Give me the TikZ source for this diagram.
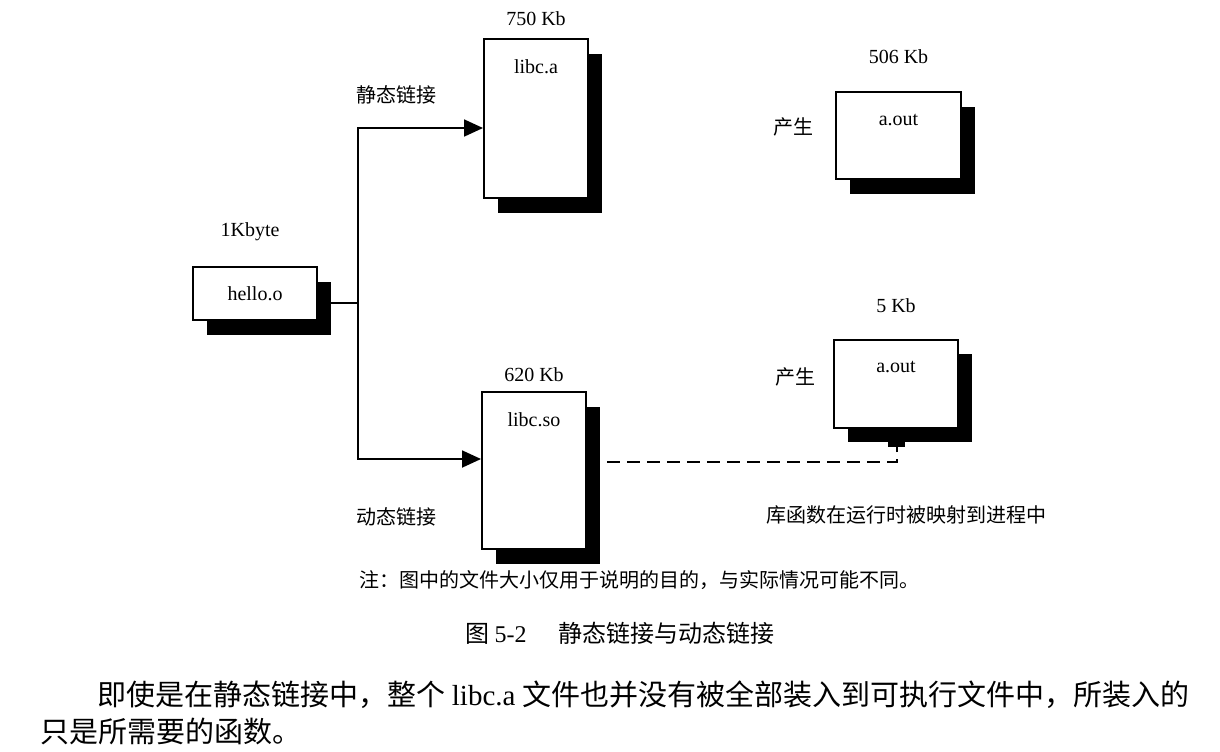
\documentclass[tikz,border=0pt]{standalone}
\usepackage{fontspec}
\setmainfont{Liberation Serif}
\newfontfamily\cjk{Noto Sans CJK SC}
\usepackage{tikz}
\usetikzlibrary{arrows.meta,positioning,shadows}

\begin{document}
\begin{tikzpicture}[x=0.5pt,y=-0.5pt,
    file/.style={draw,line width=1pt,fill=white,inner sep=0pt,
        general shadow={fill=black,shadow xshift=7pt,shadow yshift=-7.3pt}},
    lat/.style={font=\fontsize{10}{12}\selectfont},
    zh/.style={font=\cjk\fontsize{10}{12}\selectfont},
    note/.style={font=\cjk\fontsize{10}{12}\selectfont},
    figcap/.style={font=\cjk\fontsize{12}{14}\selectfont},
    body/.style={font=\cjk\fontsize{14.5}{17}\selectfont,anchor=west,inner xsep=0pt},
    link/.style={line width=0.9pt,-{Triangle[length=9.5pt,width=8.5pt]}},
    maplink/.style={line width=0.9pt,dash pattern=on 6.5pt off 3.5pt}]
    \useasboundingbox (0,0) rectangle (1220,751);
    \node[file,lat,minimum width=62pt,minimum height=26.5pt] at (255,293.5) (hello) {hello.o};
    \node[file,minimum width=52pt,minimum height=79.5pt] at (536,118.5) (libca) {};
    \node[file,minimum width=52pt,minimum height=78.5pt] at (534,470.5) (libcso) {};
    \node[file,minimum width=62.5pt,minimum height=43.5pt] at (898.5,135.5) (aoutS) {};
    \node[file,minimum width=62pt,minimum height=44pt] at (896,383.5) (aoutD) {};
    \node[lat,below=7.5pt of libca.north] (libcaname) {libc.a};
    \node[lat,below=7.5pt of libcso.north] (libcsoname) {libc.so};
    \node[lat,below=8pt of aoutS.north] (aoutSname) {a.out};
    \node[lat,below=8pt of aoutD.north] (aoutDname) {a.out};
    \node[lat,above=9pt of hello,xshift=-2.5pt] (hellosize) {1Kbyte};
    \node[lat,above=2.75pt of libca] (libcasize) {750 Kb};
    \node[lat,above=1pt of libcso] (libcsosize) {620 Kb};
    \node[lat,above=10pt of aoutS] (aoutSsize) {506 Kb};
    \node[lat,above=9.25pt of aoutD] (aoutDsize) {5 Kb};
    \coordinate (fork) at (358,303);
    \coordinate (tab) at (897,446);
    \fill (888,441) rectangle (905,447);
    \draw[line width=0.9pt] (hello.east |- fork) -- (fork);
    \draw[link] (fork) |- ([yshift=-4.75pt]libca.west);
    \draw[link] (fork) |- ([yshift=5.75pt]libcso.west);
    \draw[maplink] ([yshift=4.25pt]libcso.east) -| (tab);
    \node[zh] at (396,95) (static) {静态链接};
    \node[zh] at (396,517) (dynamic) {动态链接};
    \node[zh] at (793,127) (makeS) {产生};
    \node[zh] at (795,377) (makeD) {产生};
    \node[zh] at (906,515) (mapped) {库函数在运行时被映射到进程中};
    \node[note] at (639,580) (remark) {注：图中的文件大小仅用于说明的目的，与实际情况可能不同。};
    \node[figcap] at (620,633) (caption) {图 {\rmfamily 5-2}\hspace{16pt}静态链接与动态链接};
    \node[body] at (97,695) (line1) {即使是在静态链接中，整个 {\rmfamily libc.a} 文件也并没有被全部装入到可执行文件中，所装入的};
    \node[body] at (40,731) (line2) {只是所需要的函数。};
\end{tikzpicture}
\end{document}
